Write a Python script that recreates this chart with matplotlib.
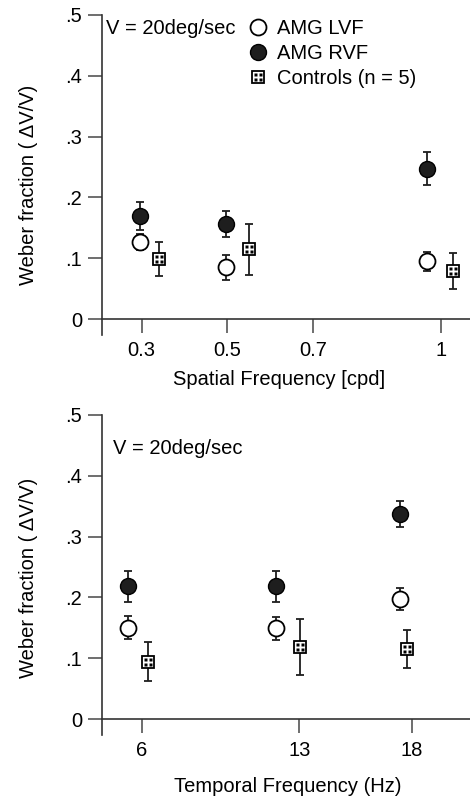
import matplotlib
matplotlib.use("Agg")
import matplotlib.pyplot as plt
from matplotlib.path import Path
import numpy as np

plt.rcParams['font.family'] = ['Liberation Sans', 'DejaVu Sans']

# ---------------- data ----------------
sf_ticks = [0.3, 0.5, 0.7, 1.0]
sf_ticklabels = ["0.3", "0.5", "0.7", "1"]
sf_patient_x = [0.297, 0.497, 0.967]
sf_control_x = [0.342, 0.551, 1.028]
sf_lvf = [0.127, 0.085, 0.095]
sf_lvf_err = [0.013, 0.021, 0.016]
sf_rvf = [0.169, 0.156, 0.247]
sf_rvf_err = [0.023, 0.021, 0.027]
sf_ctrl = [0.099, 0.115, 0.079]
sf_ctrl_err = [0.028, 0.042, 0.030]

tf_ticks = [6, 13, 18]
tf_ticklabels = ["6", "13", "18"]
tf_patient_x = [5.40, 11.97, 17.48]
tf_control_x = [6.29, 13.04, 17.78]
tf_lvf = [0.150, 0.149, 0.197]
tf_lvf_err = [0.019, 0.019, 0.018]
tf_rvf = [0.218, 0.218, 0.337]
tf_rvf_err = [0.025, 0.025, 0.022]
tf_ctrl = [0.094, 0.119, 0.115]
tf_ctrl_err = [0.032, 0.046, 0.031]

y_ticks = [0, 0.1, 0.2, 0.3, 0.4, 0.5]
y_ticklabels = ["0", ".1", ".2", ".3", ".4", ".5"]

legend_labels = ["AMG LVF", "AMG RVF", "Controls (n = 5)"]
velocity_text = "V = 20deg/sec"
ylabel_text = "Weber fraction ( \u0394V/V)"

# ---------------- styling ----------------
FS = 14.5
LINE = '#333333'
DARK = '#1e1e1e'

# dots marker (2x2 small squares) for the control symbol
def _dots_path():
    verts, codes = [], []
    s = 0.12
    for cx, cy in [(-0.25, 0.25), (0.25, 0.25), (-0.25, -0.25), (0.25, -0.25)]:
        sq = [(cx - s, cy - s), (cx + s, cy - s), (cx + s, cy + s), (cx - s, cy + s), (cx - s, cy - s)]
        verts += sq
        codes += [Path.MOVETO, Path.LINETO, Path.LINETO, Path.LINETO, Path.CLOSEPOLY]
    return Path(verts, codes)

DOTS = _dots_path()

fig = plt.figure(figsize=(4.7, 8), dpi=100)
W, H = 470, 800


def make_axes(top_px, bottom_px, left_px=101.5, right_px=470):
    return fig.add_axes([left_px / W, 1 - bottom_px / H, (right_px - left_px) / W, (bottom_px - top_px) / H])


def draw_panel(ax, px, cx, lvf, lvfe, rvf, rvfe, ctrl, ctrle):
    ekw = dict(fmt='none', ecolor=DARK, elinewidth=1.3, capsize=3, capthick=1.3, zorder=2)
    ax.errorbar(px, rvf, yerr=rvfe, **ekw)
    ax.errorbar(px, lvf, yerr=lvfe, **ekw)
    ax.errorbar(cx, ctrl, yerr=ctrle, **ekw)
    h_lvf, = ax.plot(px, lvf, 'o', ms=11.5, mfc='white', mec='black', mew=1.3, ls='none', zorder=4)
    h_rvf, = ax.plot(px, rvf, 'o', ms=11.5, mfc=DARK, mec='black', mew=1.0, ls='none', zorder=4)
    h_sq, = ax.plot(cx, ctrl, 's', ms=8.5, mfc='white', mec='black', mew=1.3, ls='none', zorder=4)
    h_dt, = ax.plot(cx, ctrl, marker=DOTS, ms=5.8, mfc='black', mec='none', ls='none', zorder=5)
    return h_lvf, h_rvf, (h_sq, h_dt)


def style_axes(ax):
    ax.set_ylim(-0.0263, 0.5)
    ax.spines['top'].set_visible(False)
    ax.spines['right'].set_visible(False)
    ax.spines['bottom'].set_position(('data', 0))
    for s in ('left', 'bottom'):
        ax.spines[s].set_color(LINE)
        ax.spines[s].set_linewidth(1.2)
    ax.set_yticks(y_ticks)
    ax.set_yticklabels(y_ticklabels)
    ax.tick_params(axis='both', direction='out', length=10, width=1.2, color='#555555',
                   labelsize=FS, labelcolor='black')
    ax.tick_params(axis='y', pad=4)
    ax.tick_params(axis='x', pad=6)
    ax.set_ylabel(ylabel_text, fontsize=FS, va='center')


# ---------- top panel ----------
ax1 = make_axes(15, 335)
h = draw_panel(ax1, sf_patient_x, sf_control_x, sf_lvf, sf_lvf_err, sf_rvf, sf_rvf_err, sf_ctrl, sf_ctrl_err)
ax1.set_xlim(0.2065, 1.0674)
ax1.set_xticks(sf_ticks)
ax1.set_xticklabels(sf_ticklabels)
style_axes(ax1)
ax1.set_xlabel("Spatial Frequency [cpd]", fontsize=FS, va='center')
ax1.xaxis.set_label_coords(0.482, -0.14)
ax1.yaxis.set_label_coords(-0.198, 0.47)
fig.text(106 / W, 1 - 28 / H, velocity_text, fontsize=FS, ha='left', va='center')
ax1.legend(list(h), legend_labels, loc='upper left', bbox_to_anchor=(248 / W, 1 - 19 / H),
           bbox_transform=fig.transFigure, frameon=False, fontsize=FS, handlelength=1.0,
           handletextpad=0.45, labelspacing=0.3, borderpad=0, borderaxespad=0, numpoints=1)

# ---------- bottom panel ----------
ax2 = make_axes(415, 735)
draw_panel(ax2, tf_patient_x, tf_control_x, tf_lvf, tf_lvf_err, tf_rvf, tf_rvf_err, tf_ctrl, tf_ctrl_err)
ax2.set_xlim(4.213, 20.59)
ax2.set_xticks(tf_ticks)
ax2.set_xticklabels(tf_ticklabels)
style_axes(ax2)
ax2.set_xlabel("Temporal Frequency (Hz)", fontsize=FS, va='center')
ax2.xaxis.set_label_coords(0.505, -0.1625)
ax2.yaxis.set_label_coords(-0.198, 0.49)
fig.text(113 / W, 1 - 448 / H, velocity_text, fontsize=FS, ha='left', va='center')

fig.savefig("out.png", dpi=100)
